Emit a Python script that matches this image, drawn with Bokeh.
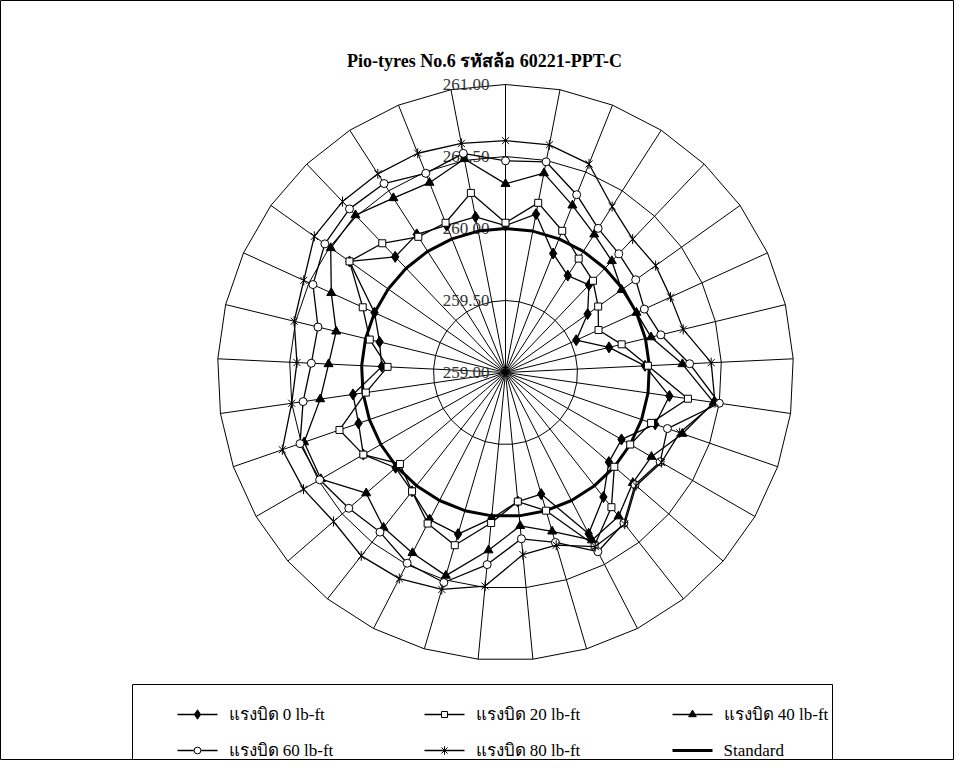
import numpy as np
from bokeh.plotting import figure
from bokeh.models import Range1d, ColumnDataSource
from bokeh.core.properties import value
from bokeh.embed import file_html
from bokeh.resources import INLINE

# ---------------- data ----------------
title_text = "Pio-tyres No.6 รหัสล้อ 60221-PPT-C"
ring_values = [259.00, 259.50, 260.00, 260.50, 261.00]
ring_labels = ["259.00", "259.50", "260.00", "260.50", "261.00"]
categories = list(range(1, 34))

torque_0 = [260.02, 260.12, 259.89, 259.80, 259.84, 259.70, 259.54, 259.74, 259.97, 260.15,
            260.10, 259.93, 259.95, 260.10, 260.26, 259.88, 259.90, 260.02, 260.17, 260.15,
            260.05, 260.01, 260.14, 260.08, 260.07, 259.86, 259.90, 260.00, 260.33, 260.11,
            260.14, 260.10, 260.10]
torque_20 = [260.04, 260.20, 260.06, 259.94, 259.88, 259.79, 259.71, 259.83, 259.99, 260.28,
             260.07, 260.00, 260.00, 260.19, 260.35, 260.00, 259.90, 260.05, 260.25, 260.18,
             260.05, 259.97, 260.14, 260.22, 259.98, 259.82, 259.97, 260.09, 260.33, 260.24,
             260.12, 260.12, 260.27]
torque_40 = [260.31, 260.41, 260.25, 260.14, 260.07, 259.99, 260.00, 260.04, 260.23, 260.46,
             260.30, 260.17, 260.17, 260.27, 260.31, 260.15, 260.07, 260.24, 260.47, 260.41,
             260.37, 260.28, 260.48, 260.48, 260.30, 260.23, 260.21, 260.33, 260.49, 260.51,
             260.44, 260.42, 260.51]
torque_60 = [260.47, 260.49, 260.33, 260.19, 260.14, 260.11, 260.06, 260.11, 260.28, 260.50,
             260.19, 260.24, 260.19, 260.33, 260.40, 260.23, 260.16, 260.34, 260.52, 260.49,
             260.41, 260.44, 260.49, 260.51, 260.42, 260.35, 260.34, 260.47, 260.54, 260.57,
             260.56, 260.49, 260.55]
torque_80 = [260.61, 260.61, 260.56, 260.37, 260.28, 260.28, 260.26, 260.27, 260.43, 260.47,
             260.28, 260.25, 260.20, 260.34, 260.36, 260.25, 260.27, 260.49, 260.57, 260.61,
             260.62, 260.58, 260.62, 260.64, 260.50, 260.45, 260.51, 260.54, 260.63, 260.64,
             260.64, 260.64, 260.62]
standard = [260.00] * 33

series_names = ["แรงบิด 0 lb-ft", "แรงบิด 20 lb-ft", "แรงบิด 40 lb-ft",
                "แรงบิด 60 lb-ft", "แรงบิด 80 lb-ft", "Standard"]

# ---------------- layout ----------------
W, H = 954, 760
PX = 144.0            # pixels per value unit
CX, CY = 505, 372     # radar centre in figure pixels
R0 = ring_values[0]
FONT = "Liberation Serif"


def fx(px):
    return (px - CX) / PX


def fy(py):
    return (CY - py) / PX


p = figure(width=W, height=H, output_backend="svg", toolbar_location=None,
           x_range=Range1d(fx(0), fx(W)), y_range=Range1d(fy(H), fy(0)),
           min_border=0)
p.axis.visible = False
p.grid.visible = False
p.outline_line_color = "black"
p.outline_line_width = 1
p.background_fill_color = "white"
p.border_fill_color = "white"

n = len(categories)
ang = 2 * np.pi * np.arange(n) / n


def polar(vals):
    r = np.asarray(vals) - R0
    return r * np.sin(ang), r * np.cos(ang)


# grid rings
for rv in ring_values[1:]:
    gx, gy = polar([rv] * n)
    p.patch(np.append(gx, gx[0]), np.append(gy, gy[0]), fill_color=None,
            line_color="black", line_width=1)

# spokes
rmax = ring_values[-1] - R0
p.segment(x0=np.zeros(n), y0=np.zeros(n), x1=rmax * np.sin(ang), y1=rmax * np.cos(ang),
          line_color="black", line_width=1)

# axis labels
p.text(x=[fx(CX - 16)] * len(ring_values), y=[v - R0 for v in ring_values], text=ring_labels,
       text_font=value(FONT), text_font_size="17px", text_color="#333333",
       text_align="right", text_baseline="middle")

# standard
sx, sy = polar(standard)
p.line(np.append(sx, sx[0]), np.append(sy, sy[0]), line_color="black", line_width=3)


def draw_marker(src, kind, size_scale=1.0):
    if kind == "diamond":
        p.scatter("x", "y", source=src, marker="diamond", size=11 * size_scale,
                  fill_color="black", line_color="black")
    elif kind == "square":
        p.scatter("x", "y", source=src, marker="square", size=7 * size_scale,
                  fill_color="white", line_color="black", line_width=1)
    elif kind == "triangle":
        p.scatter("x", "y", source=src, marker="triangle", size=9 * size_scale,
                  fill_color="black", line_color="black")
    elif kind == "circle":
        p.scatter("x", "y", source=src, marker="circle", size=8 * size_scale,
                  fill_color="white", line_color="black", line_width=1)
    elif kind == "star":
        p.scatter("x", "y", source=src, marker="x", size=10 * size_scale,
                  line_color="black", line_width=1)
        p.scatter("x", "y", source=src, marker="dash", size=10 * size_scale, angle=np.pi / 2,
                  line_color="black", line_width=1)


series = [(torque_0, "diamond"), (torque_20, "square"), (torque_40, "triangle"),
          (torque_60, "circle"), (torque_80, "star")]
for vals, kind in series:
    x, y = polar(vals)
    p.line(np.append(x, x[0]), np.append(y, y[0]), line_color="black", line_width=1.3)
    draw_marker(ColumnDataSource(dict(x=x, y=y)), kind)

# title
p.text(x=[fx(484)], y=[fy(60)], text=[title_text], text_font=value(FONT),
       text_font_size="18px", text_font_style="bold", text_align="center",
       text_baseline="middle", text_color="black")

# legend box
LX0, LX1, LY0 = 140 - 8, 840 - 8, 692 - 8
p.line([fx(LX0), fx(LX0), fx(LX1), fx(LX1)], [fy(H), fy(LY0), fy(LY0), fy(H)],
       line_color="black", line_width=1)

col_x = [177, 424, 672]
row_y = [714, 750]
kinds = ["diamond", "square", "triangle", "circle", "star", None]
for i, name in enumerate(series_names):
    cx = col_x[i % 3]
    cy = row_y[i // 3]
    lw = 3 if kinds[i] is None else 1.3
    p.line([fx(cx), fx(cx + 40)], [fy(cy), fy(cy)], line_color="black", line_width=lw)
    if kinds[i] is not None:
        draw_marker(ColumnDataSource(dict(x=[fx(cx + 20)], y=[fy(cy)])), kinds[i], 0.85)
    p.text(x=[fx(cx + 51)], y=[fy(cy)], text=[name], text_font=value(FONT),
           text_font_size="17px", text_align="left", text_baseline="middle",
           text_color="black")

open("out.html", "w").write(file_html(p, INLINE))
